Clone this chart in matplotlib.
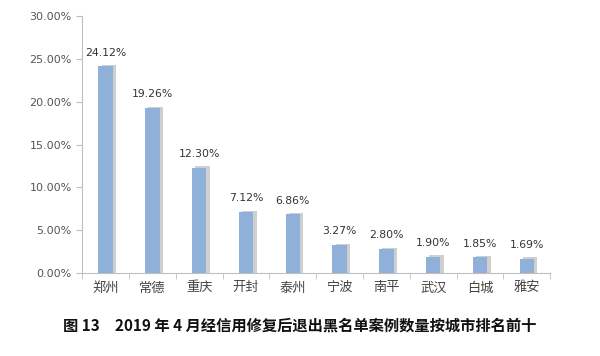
import matplotlib
matplotlib.use('Agg')
import matplotlib.pyplot as plt
import numpy as np

# --- data ---
cities = ["郑州", "常德", "重庆", "开封", "泰州", "宁波", "南平", "武汉", "白城", "雅安"]
shares = [24.12, 19.26, 12.30, 7.12, 6.86, 3.27, 2.80, 1.90, 1.85, 1.69]
yticks = [0, 5, 10, 15, 20, 25, 30]
caption = "图 13　2019 年 4 月经信用修复后退出黑名单案例数量按城市排名前十"

plt.rcParams['font.family'] = ['Noto Sans CJK SC', 'DejaVu Sans']

fig = plt.figure(figsize=(6, 3.56), dpi=100)
ax = fig.add_axes([0.137, 0.233, 0.78, 0.722])

x = np.arange(len(cities))
bw = 0.31
# soft shadow behind each bar
ax.bar(x + 0.07, np.array(shares) + 0.15, width=bw, color="#a9a9a9", alpha=0.55, zorder=1)
ax.bar(x, shares, width=bw, color="#8fb0d9", zorder=2)

for xi, v in zip(x, shares):
    ax.text(xi, v + 1.0, f"{v:.2f}%", ha="center", va="bottom",
            fontsize=7.8, color="#333333", family="DejaVu Sans")

ax.set_xlim(-0.5, len(cities) - 0.5)
ax.set_ylim(0, 30)
ax.set_yticks(yticks)
ax.set_yticklabels([f"{t:.2f}%" for t in yticks], family="DejaVu Sans")
ax.set_xticks(x)
ax.set_xticklabels(cities)
ax.set_xticks(np.arange(len(cities) + 1) - 0.5, minor=True)
ax.tick_params(axis="x", which="major", length=0, labelsize=9.5, colors="#444444", pad=6)
ax.tick_params(axis="x", which="minor", length=4, color="#bfbfbf")
ax.tick_params(axis="y", length=4, color="#bfbfbf", labelsize=8, labelcolor="#555555")

for s in ["top", "right"]:
    ax.spines[s].set_visible(False)
for s in ["left", "bottom"]:
    ax.spines[s].set_color("#bfbfbf")

fig.text(0.5, 0.085, caption, ha="center", va="center", fontsize=11,
         fontweight="bold", color="#111111")

fig.savefig("out.png", dpi=100)
